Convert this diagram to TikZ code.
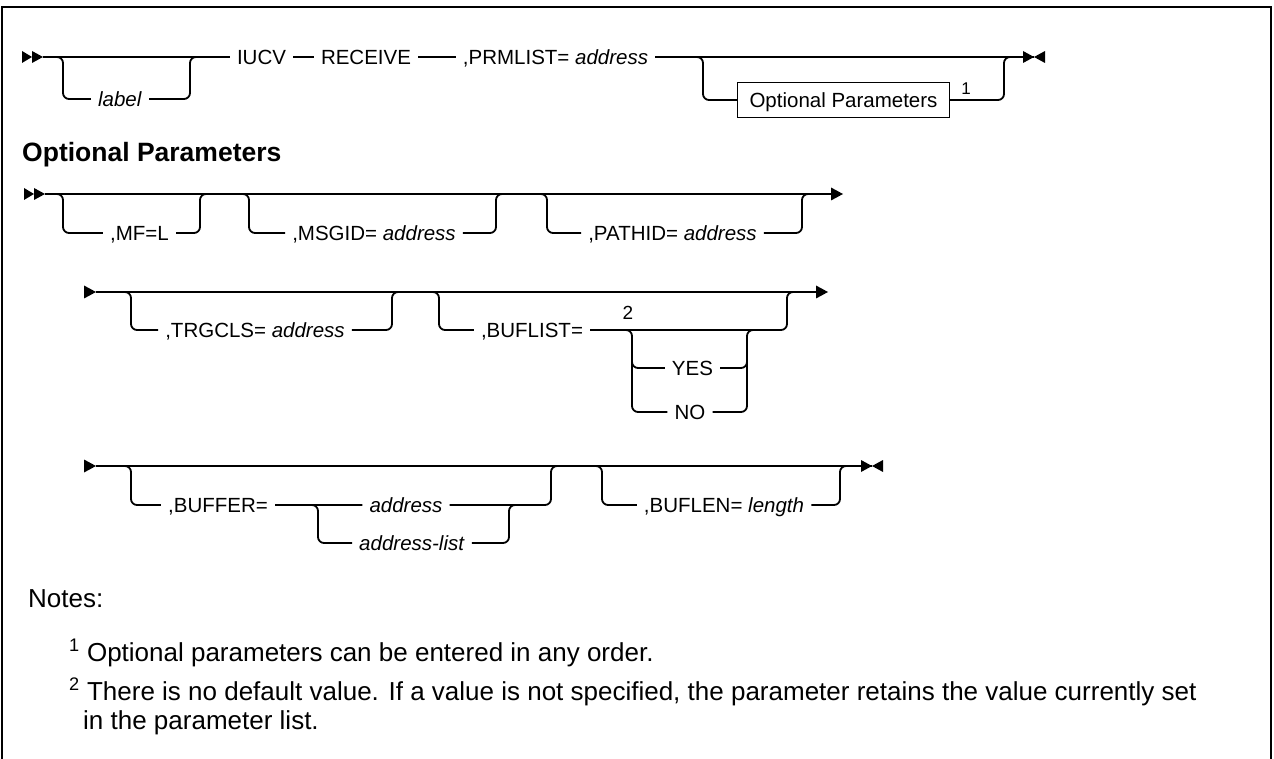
\documentclass[tikz,border=0pt]{standalone}
\usepackage{fontspec}
\setmainfont{Liberation Sans}
\usetikzlibrary{calc}

\tikzset{
  rail/.style={line width=1.8pt, rounded corners=6pt},
  tok/.style={font=\fontsize{20.5}{24}\selectfont, inner xsep=7pt, inner ysep=0pt, text height=14.7pt, text depth=0pt},
  optbox/.style={tok, draw, line width=1.3pt, inner xsep=12pt, minimum height=35pt},
  supnum/.style={font=\fontsize{17}{20}\selectfont, inner sep=0pt},
  note/.style={font=\fontsize{26}{30}\selectfont, inner sep=0pt, anchor=base west},
  startmark/.pic={\fill (-21,-6) -- (-11,0) -- (-21,6) -- cycle; \fill (-11,-6) -- (0,0) -- (-11,6) -- cycle;},
  tipmark/.pic={\fill (-12,-6.5) -- (0,0) -- (-12,6.5) -- cycle;},
  endmark/.pic={\fill (-11,-6) -- (0,0) -- (-11,6) -- cycle; \fill (11,-6) -- (0,0) -- (11,6) -- cycle;}
}

\begin{document}
\begin{tikzpicture}[x=1pt,y=-1pt]
\useasboundingbox (0,0) rectangle (1274,759);
\draw[line width=1.5pt] (2,759) -- (2,7) -- (1271,7) -- (1271,759);

% IUCV RECEIVE
\coordinate (s1) at (43,57); \coordinate (e1) at (1034,57);
\coordinate (lblL) at (63,57); \coordinate (lblR) at (190,57);
\coordinate (optL) at (703,57); \coordinate (optR) at (1004,57);
\node[tok] (lbl) at (120,99) {\textit{label}};
\node[tok] (iucv) at (261.5,57) {IUCV};
\node[tok] (recv) at (366,57) {RECEIVE};
\node[tok] (prm) at (555.5,57) {,PRMLIST= \textit{address}};
\node[optbox] (opt) at (843.5,100) {Optional Parameters};
\node[supnum] (fn1) at (966,89) {1};
\pic at (s1) {startmark};
\pic at (e1) {endmark};
\draw[rail] (s1) -- (iucv) -- (recv) -- (prm) -- (e1);

\node[font=\fontsize{26.5}{30}\selectfont\bfseries, inner sep=0pt, anchor=base west] (hdr) at (22,162) {Optional Parameters};

% first line of options
\coordinate (s2) at (45,194); \coordinate (e2) at (843,194);
\coordinate (mfL) at (63,194); \coordinate (mfR) at (200,194);
\coordinate (msgL) at (249,194); \coordinate (msgR) at (496,194);
\coordinate (pthL) at (547,194); \coordinate (pthR) at (802,194);
\node[tok] (mf) at (139.5,233) {,MF=L};
\node[tok] (msg) at (374,233) {,MSGID= \textit{address}};
\node[tok] (pth) at (672.5,233) {,PATHID= \textit{address}};
\pic at (s2) {startmark};
\pic at (e2) {tipmark};
\draw[rail] (s2) -- ($(e2)+(-6,0)$);

% second line
\coordinate (s3) at (96,292); \coordinate (e3) at (828,292);
\coordinate (trgL) at (131,292); \coordinate (trgR) at (392,292);
\coordinate (bflL) at (439,292); \coordinate (bflR) at (787,292);
\coordinate (ynL) at (632,330); \coordinate (ynR) at (747,330);
\node[tok] (trg) at (255,330) {,TRGCLS= \textit{address}};
\node[tok] (bfl) at (532,330) {,BUFLIST=};
\node[tok, font=\fontsize{19}{22}\selectfont, text height=13.5pt] (fn2) at (628,313) {2};
\node[tok] (yes) at (692.5,368) {YES};
\node[tok] (no) at (690,412) {NO};
\pic at (s3) {tipmark};
\pic at (e3) {tipmark};
\draw[rail] (s3) -- ($(e3)+(-6,0)$);
\draw[rail] (ynL) ++(-9,0) -- (ynL) |- (no);
\draw[rail] ($(ynL)+(0,20)$) |- (yes) -| (ynR) -- ++(9,0);
\draw[rail] (no) -| ($(ynR)+(0,20)$);

% third line
\coordinate (s4) at (96,466); \coordinate (e4) at (872,466);
\coordinate (bufL) at (131,466); \coordinate (bufR) at (551,466);
\coordinate (alL) at (318,505); \coordinate (alR) at (509,505);
\coordinate (blnL) at (602,466); \coordinate (blnR) at (840,466);
\node[tok] (buf) at (218,505) {,BUFFER=};
\node[tok] (adr) at (406,505) {\textit{address}};
\node[tok] (adl) at (412,543) {\textit{address-list}};
\node[tok] (bln) at (724,505) {,BUFLEN= \textit{length}};
\pic at (s4) {tipmark};
\pic at (e4) {endmark};
\draw[rail] (s4) -- (e4);
\draw[rail] (bufL) ++(-9,0) -- (bufL) |- (buf) -- (adr) -| (bufR) -- ++(9,0);

% optional branches
\foreach \l/\n/\r in {lblL/lbl/lblR, optL/opt/optR, mfL/mf/mfR, msgL/msg/msgR, pthL/pth/pthR,
    trgL/trg/trgR, bflL/bfl/bflR, alL/adl/alR, blnL/bln/blnR}
  \draw[rail] (\l) ++(-9,0) -- (\l) |- (\n) -| (\r) -- ++(9,0);

% notes
\node[note] (notes) at (28,607) {Notes:};
\node[note] (n1) at (69,661) {\textsuperscript{1} Optional parameters can be entered in any order.};
\node[note] (n2) at (69,700) {\textsuperscript{2} There is no default value. If a value is not specified, the parameter retains the value currently set};
\node[note] (n2b) at (83,729) {in the parameter list.};
\end{tikzpicture}
\end{document}
